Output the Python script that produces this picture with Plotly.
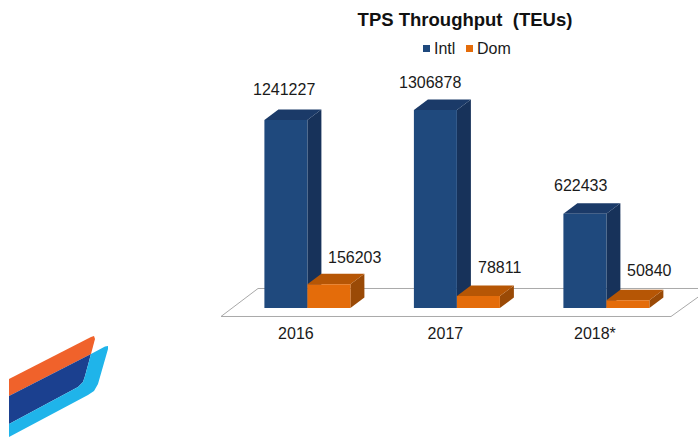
import plotly.graph_objects as go

categories = ["2016", "2017", "2018*"]
intl = [1241227, 1306878, 622433]
dom = [156203, 78811, 50840]
title_text = "TPS Throughput  (TEUs)"

W, H = 698, 437
FONT = "Liberation Sans, Arial, sans-serif"
INK = "#1a1a1a"
BLUE = ("#1F497D", "#1B3A68", "#17325A")   # front, top, side
ORANGE = ("#E46C0A", "#B65605", "#9A4A06")

# Layout of the pseudo-3D scene, in page pixels
BASE_PX, BOTTOM_PX = 308, 318
CAT0_PX, CAT_STEP_PX = 307.4, 149.5
TICK_SHIFT_PX = 11.5
PX_PER_UNIT = 188 / 1241227
BAR_PX, DEPTH_X_PX, DEPTH_Y_PX = 43, 14, 10.5

dx = DEPTH_X_PX / CAT_STEP_PX
dy = DEPTH_Y_PX / PX_PER_UNIT
bar_w = BAR_PX / CAT_STEP_PX
x_range = [-CAT0_PX / CAT_STEP_PX, (W - CAT0_PX) / CAT_STEP_PX]
y_range = [-(BOTTOM_PX - BASE_PX) / PX_PER_UNIT, BASE_PX / PX_PER_UNIT]
positions = list(range(len(categories)))


def paper_y(y):
    # paper coordinates span the plot area, which ends at BOTTOM_PX
    return 1 - y / BOTTOM_PX


def px(points):
    path = ""
    for i, (x, y) in enumerate(points):
        path += ("M" if i == 0 else "L") + f"{x / W:.5f},{paper_y(y):.5f} "
    return path + "Z"


def page_shape(points, fill, line=None, width=0):
    return dict(type="path", xref="paper", yref="paper", path=px(points), fillcolor=fill,
                line=dict(color=line or fill, width=width), layer="below")


def data_shape(points, fill):
    path = ""
    for i, (x, y) in enumerate(points):
        path += ("M" if i == 0 else "L") + f"{x},{y} "
    return dict(type="path", xref="x", yref="y", path=path + "Z", fillcolor=fill,
                line=dict(width=0), layer="below")


def box_faces(left, value, colors):
    right = left + bar_w
    top_face = [(left, value), (left + dx, value + dy), (right + dx, value + dy), (right, value)]
    side_face = [(right, 0), (right, value), (right + dx, value + dy), (right + dx, dy)]
    return [data_shape(side_face, colors[2]), data_shape(top_face, colors[1])]


shapes = [page_shape([(221, 316.5), (258, 288.5), (710, 288.5), (671, 316.5)],
                     "white", "#A9A9A9", 1)]
for p, a, b in zip(positions, intl, dom):
    shapes += box_faces(p - bar_w, a, BLUE)
    shapes += box_faces(p, b, ORANGE)

# Legend swatches
shapes += [
    page_shape([(423, 45), (430, 45), (430, 52), (423, 52)], BLUE[0]),
    page_shape([(466, 45), (473, 45), (473, 52), (466, 52)], ORANGE[0]),
]

# Corner logo
shapes += [
    page_shape([(9, 379), (91, 337), (94, 336), (95, 339), (91, 354), (9, 396)], "#F0622B"),
    page_shape([(9, 424), (78, 387), (83, 382), (85, 376), (91, 354), (9, 396)], "#1B408F"),
    page_shape([(9, 424), (78, 387), (83, 382), (85, 376), (91, 354), (105, 346.5), (108, 346),
                (108, 349), (98, 384), (94, 391), (88, 395), (9, 437)], "#1FB4EA"),
]

fig = go.Figure()
fig.add_bar(x=positions, y=intl, name="Intl", marker=dict(color=BLUE[0], line=dict(width=0)))
fig.add_bar(x=positions, y=dom, name="Dom", marker=dict(color=ORANGE[0], line=dict(width=0)))

label_offsets = {
    "intl": [(-2, 31), (-5, 28), (-4, 28)],
    "dom": [(26, 27), (21, 29), (22, 30)],
}
annotations = []
for p, a, off in zip(positions, intl, label_offsets["intl"]):
    annotations.append(dict(x=p - bar_w / 2, y=a, text=str(a), xshift=off[0], yshift=off[1]))
for p, b, off in zip(positions, dom, label_offsets["dom"]):
    annotations.append(dict(x=p + bar_w / 2, y=b, text=str(b), xshift=off[0], yshift=off[1]))
for an in annotations:
    an.update(showarrow=False, xanchor="center", yanchor="middle",
              font=dict(family=FONT, size=16, color=INK))
for text, x in (("Intl", 435), ("Dom", 478)):
    annotations.append(dict(xref="paper", yref="paper", x=x / W, y=paper_y(49), text=text,
                            showarrow=False, xanchor="left", yanchor="middle", xshift=-3,
                            font=dict(family=FONT, size=16, color=INK)))

fig.update_layout(
    width=W, height=H,
    margin=dict(l=0, r=0, t=0, b=H - BOTTOM_PX, pad=0),
    paper_bgcolor="white", plot_bgcolor="white",
    barmode="group", bargap=1 - 2 * bar_w, bargroupgap=0,
    showlegend=False,
    title=dict(text=title_text, x=465 / W, xanchor="center", xref="paper", y=1 - 20 / H,
               yref="container", yanchor="middle",
               font=dict(family=FONT, size=18.5, color="#111111", weight="bold")),
    xaxis=dict(range=x_range, tickmode="array",
               tickvals=[p - TICK_SHIFT_PX / CAT_STEP_PX for p in positions], ticktext=categories,
               showgrid=False, zeroline=False, showline=False, ticks="outside", ticklen=1,
               tickcolor="rgba(0,0,0,0)", tickfont=dict(family=FONT, size=16, color=INK)),
    yaxis=dict(range=y_range, visible=False, showgrid=False, zeroline=False),
    shapes=shapes, annotations=annotations,
)

fig.write_html("out.html", config=dict(displayModeBar=False),
               post_script="document.documentElement.style.overflow='hidden';document.body.style.margin='0';")
